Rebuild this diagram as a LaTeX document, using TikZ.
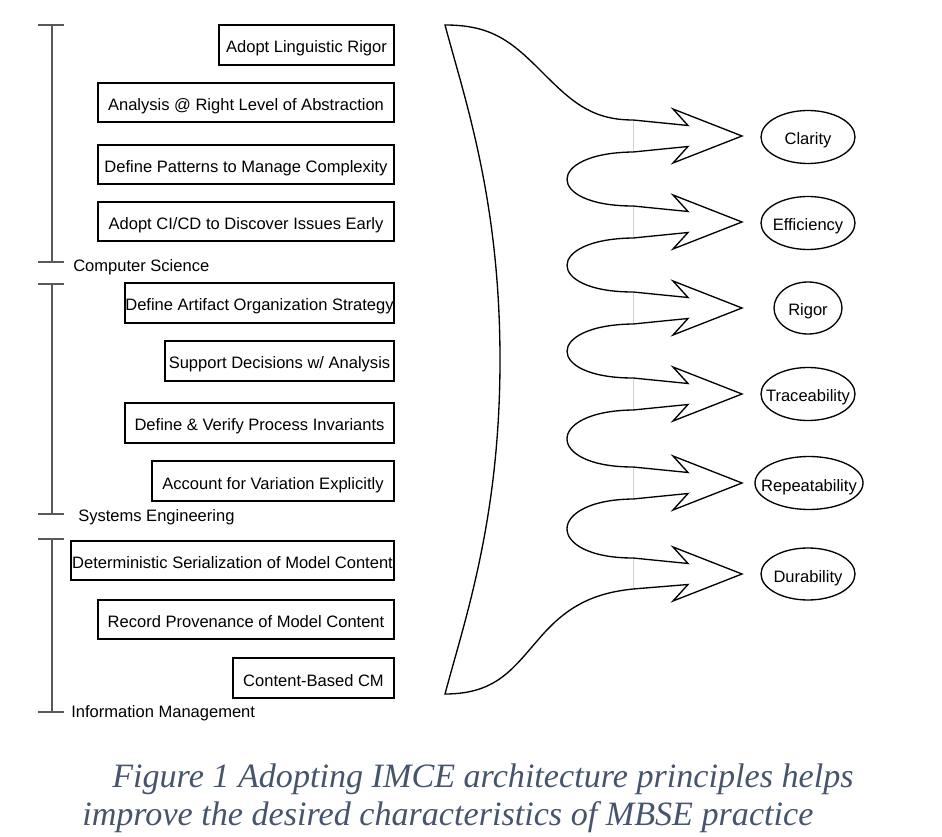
\documentclass[tikz,border=0pt]{standalone}
\usepackage{fontspec}
\setsansfont{Liberation Sans}
\newfontfamily\capfont{Liberation Serif}
\definecolor{capblue}{RGB}{70,84,108}

\begin{document}
\begin{tikzpicture}[x=0.75pt, y=-0.75pt,
  font=\sffamily\fontsize{12.4}{14}\selectfont,
  principle/.style={line width=1pt},
  bracket/.style={draw=black!65, line width=1.5pt},
  flow/.style={draw=black, line width=1pt, fill=white, line join=miter},
  seam/.style={draw=black!18, line width=0.4pt},
  quality/.style={line width=1pt},
  lowtext/.style={text height=12pt, text depth=0pt},
  caption/.style={font=\capfont\itshape\fontsize{25.6}{30}\selectfont, text=capblue, inner sep=0pt}]
\useasboundingbox (0,0) rectangle (942,837);

% brackets down the left
\draw[bracket] (38,25) -- (64,25) (52,25) -- (52,262) (38,262) -- (64,262);
\node[anchor=west, inner sep=0pt] (csLabel) at (73,267) {Computer Science};
\draw[bracket] (38,284) -- (64,284) (52,284) -- (52,514) (38,514) -- (64,514);
\node[anchor=west, inner sep=0pt] (seLabel) at (78,517) {Systems Engineering};
\draw[bracket] (38,539) -- (64,539) (52,539) -- (52,712) (38,712) -- (64,712);
\node[anchor=west, inner sep=0pt] (imLabel) at (71,713) {Information Management};

% principles
\draw[principle] (219,25) rectangle (394,65) node[midway, lowtext] (linguisticRigor) {Adopt Linguistic Rigor};
\draw[principle] (98,83) rectangle (394,122) node[midway, lowtext] (abstraction) {Analysis @ Right Level of Abstraction};
\draw[principle] (98,145) rectangle (394,184) node[midway, lowtext] (patterns) {Define Patterns to Manage Complexity};
\draw[principle] (98,202) rectangle (394,241) node[midway, lowtext] (cicd) {Adopt CI/CD to Discover Issues Early};
\draw[principle] (125,283) rectangle (394,323) node[midway, lowtext] (artifacts) {Define Artifact Organization Strategy};
\draw[principle] (165,341) rectangle (394,381) node[midway, lowtext] (decisions) {Support Decisions w/ Analysis};
\draw[principle] (125,403) rectangle (394,443) node[midway, lowtext] (invariants) {Define \& Verify Process Invariants};
\draw[principle] (152,461) rectangle (394,501) node[midway, lowtext] (variation) {Account for Variation Explicitly};
\draw[principle] (71,541) rectangle (394,580) node[midway, lowtext] (serialization) {Deterministic Serialization of Model Content};
\draw[principle] (98,600) rectangle (394,639) node[midway, lowtext] (provenance) {Record Provenance of Model Content};
\draw[principle] (233,658) rectangle (394,698) node[midway, lowtext] (contentCM) {Content-Based CM};

% the big arrow
\draw[flow] (445,25)
  .. controls (490,25) and (510,40) .. (540,70)
  .. controls (570,100) and (590,120) .. (633,120)
  -- (688,125.5) -- (673,109) -- (742,136) -- (673,163) -- (688,146.5) -- (633,152)
  .. controls (545,153) and (545,206) .. (633,206)
  -- (688,211.5) -- (673,195) -- (742,222) -- (673,249) -- (688,232.5) -- (633,238)
  .. controls (545,239) and (545,292) .. (633,292)
  -- (688,297.5) -- (673,281) -- (742,308) -- (673,335) -- (688,318.5) -- (633,324)
  .. controls (545,325) and (545,378) .. (633,378)
  -- (688,383.5) -- (673,367) -- (742,394) -- (673,421) -- (688,404.5) -- (633,410)
  .. controls (545,411) and (545,467) .. (633,467)
  -- (688,472.5) -- (673,456) -- (742,483) -- (673,510) -- (688,493.5) -- (633,499)
  .. controls (545,500) and (545,558) .. (633,558)
  -- (688,563.5) -- (673,547) -- (742,574) -- (673,601) -- (688,584.5) -- (633,589)
  .. controls (595,593) and (570,605) .. (545,632)
  .. controls (515,665) and (500,694) .. (445,694)
  .. controls (465,619) and (500,519) .. (500,360)
  .. controls (500,200) and (465,100) .. (445,25) -- cycle;
\draw[seam] (633,121) -- (633,151);
\draw[seam] (633,207) -- (633,237);
\draw[seam] (633,293) -- (633,323);
\draw[seam] (633,379) -- (633,409);
\draw[seam] (633,468) -- (633,498);
\draw[seam] (633,559) -- (633,588);

% qualities
\draw[quality] (808,137) ellipse [x radius=47, y radius=26.5] node[lowtext] (clarity) {Clarity};
\draw[quality] (808,223) ellipse [x radius=47, y radius=26.5] node[lowtext] (efficiency) {Efficiency};
\draw[quality] (808,308) ellipse [x radius=34, y radius=26] node[lowtext] (rigor) {Rigor};
\draw[quality] (808,394) ellipse [x radius=47, y radius=26.5] node[lowtext] (traceability) {Traceability};
\draw[quality] (809,483) ellipse [x radius=54, y radius=26.5] node[lowtext] (repeatability) {Repeatability};
\draw[quality] (808,574) ellipse [x radius=47, y radius=26] node[lowtext] (durability) {Durability};

\node[caption, anchor=base west] (captionA) at (112,787) {Figure 1 Adopting IMCE architecture principles helps};
\node[caption, anchor=base west] (captionB) at (82,825) {improve the desired characteristics of MBSE practice};

\end{tikzpicture}
\end{document}
